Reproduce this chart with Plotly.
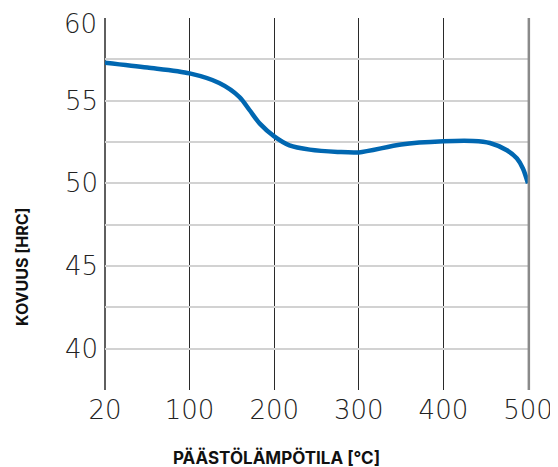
import numpy as np
import plotly.graph_objects as go

# Data
temps = [20, 60, 100, 135, 159, 171, 183, 200, 218, 242, 275, 300, 350, 400, 435, 455, 475, 487, 494, 500]
hardness = [57.3, 57.0, 56.65, 56.07, 55.22, 54.42, 53.61, 52.84, 52.30, 52.04, 51.9, 51.87, 52.35, 52.54, 52.56, 52.44, 52.0, 51.5, 50.9, 50.0]

x_ticks = [20, 100, 200, 300, 400, 500]
x_labels = ["20", "100", "200", "300", "400", "500"]
y_grid = [37.5, 40, 42.5, 45, 47.5, 50, 52.5, 55, 57.5, 60]
y_labels = ["", "40", "", "45", "", "50", "", "55", "", "60"]

# Axis is evenly spaced between tick labels (20 -> 100 same width as 100 -> 200)
tick_pos = list(range(len(x_ticks)))
x_pos = np.interp(temps, x_ticks, tick_pos)

tick_font = dict(family="DejaVu Sans", size=26, color="#222", weight=200)

# The top label sits slightly below its gridline (kept inside the page) -> drawn as annotation
axis_ticktext = y_labels[:-1] + [""]
top_label = y_labels[-1]
top_value = y_grid[-1]

fig = go.Figure()
fig.add_trace(go.Scatter(
    x=x_pos, y=hardness, mode="lines",
    line=dict(color="#0067b1", width=4.5, shape="spline", smoothing=0.8),
    hoverinfo="skip", showlegend=False,
))

fig.update_layout(
    width=558, height=467,
    margin=dict(l=97, r=38, t=10, b=85),
    paper_bgcolor="white", plot_bgcolor="white",
    xaxis=dict(
        range=[0, 5], tickvals=tick_pos, ticktext=x_labels,
        showgrid=True, gridcolor="#2a2a2a", gridwidth=1.2,
        zeroline=False, showline=False, ticks="", automargin=False,
        tickfont=tick_font, ticklabelstandoff=2, ticklabeloverflow="allow",
    ),
    yaxis=dict(
        range=[37.5, 60], tickvals=y_grid, ticktext=axis_ticktext,
        showgrid=True, gridcolor="#d2d2d2", gridwidth=1.5,
        zeroline=False, showline=False, ticks="", automargin=False,
        tickfont=tick_font, ticklabelstandoff=6, ticklabeloverflow="allow",
    ),
    shapes=[
        dict(type="line", xref="paper", yref="paper", x0=0, x1=0, y0=0, y1=1,
             line=dict(color="#2a2a2a", width=1.5), layer="below"),
        dict(type="line", xref="paper", yref="paper", x0=1.002, x1=1.002, y0=0, y1=1,
             line=dict(color="#8a8a8a", width=2.5), layer="above"),
    ],
    annotations=[
        dict(text=top_label, xref="paper", yref="y", x=0, y=top_value,
             xanchor="right", yanchor="middle", xshift=-6, yshift=-6, showarrow=False,
             font=tick_font),
        dict(text="PÄÄSTÖLÄMPÖTILA [°C]", xref="paper", yref="paper",
             x=0.4066, y=-0.181, xanchor="center", yanchor="middle", showarrow=False,
             font=dict(family="Inter", size=17, color="#111", weight=700)),
        dict(text="KOVUUS [HRC]", xref="paper", yref="paper", textangle=-90,
             x=-0.196, y=0.331, xanchor="center", yanchor="middle", showarrow=False,
             font=dict(family="Inter", size=16, color="#111", weight=700)),
    ],
)

fig.write_html("out.html")
